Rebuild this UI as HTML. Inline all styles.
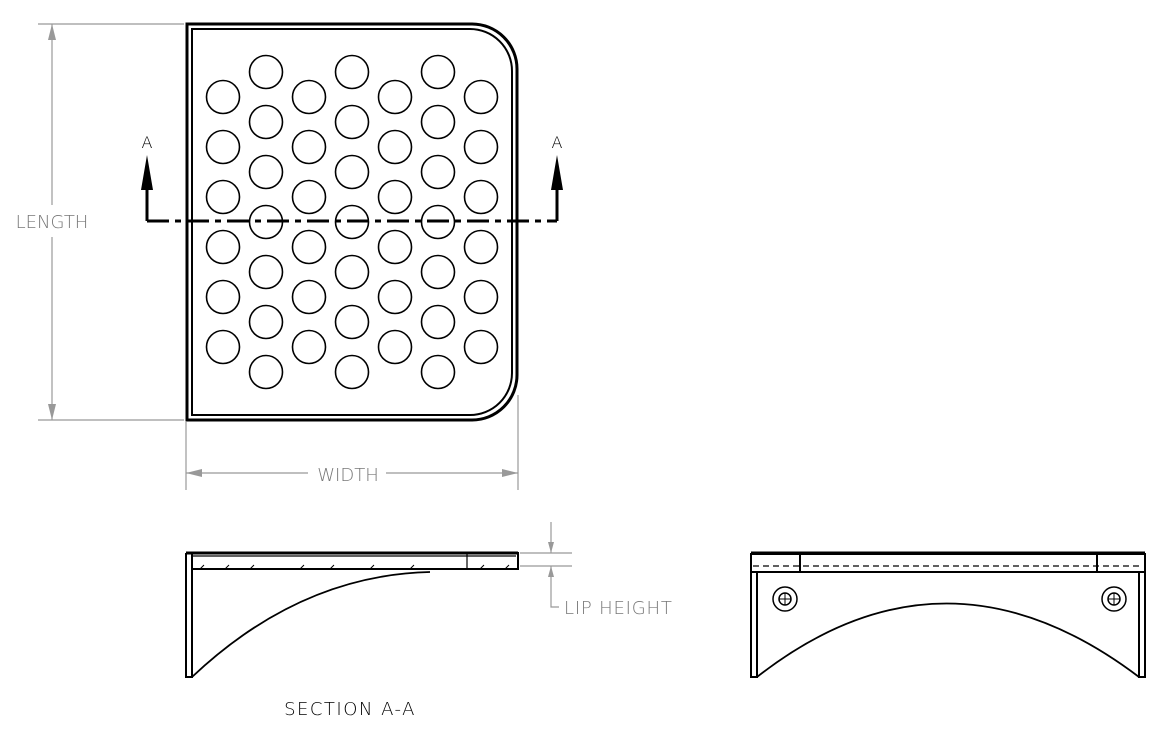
<!DOCTYPE html>
<html><head><style>
html,body{margin:0;padding:0;background:#fff;}
svg{display:block;}
text{font-family:"DejaVu Sans","Liberation Sans",sans-serif;font-weight:200;}
</style></head><body>
<svg width="1175" height="742" viewBox="0 0 1175 742" xmlns="http://www.w3.org/2000/svg">
<path d="M187 24 H472 A45 45 0 0 1 517 69 V375 A45 45 0 0 1 472 420 H187 Z" fill="none" stroke="#000" stroke-width="3"/>
<path d="M192 29 H470 A42 42 0 0 1 512 71 V373 A42 42 0 0 1 470 415 H192 Z" fill="none" stroke="#000" stroke-width="2"/>
<g fill="none" stroke="#000" stroke-width="1.6">
<g id="e">
<circle cx="223" cy="97" r="16.5"/><circle cx="223" cy="147" r="16.5"/><circle cx="223" cy="197" r="16.5"/><circle cx="223" cy="247" r="16.5"/><circle cx="223" cy="297" r="16.5"/><circle cx="223" cy="347" r="16.5"/>
</g>
<use href="#e" x="86"/><use href="#e" x="172"/><use href="#e" x="258"/>
<g id="o">
<circle cx="266" cy="72" r="16.5"/><circle cx="266" cy="122" r="16.5"/><circle cx="266" cy="172" r="16.5"/><circle cx="266" cy="222" r="16.5"/><circle cx="266" cy="272" r="16.5"/><circle cx="266" cy="322" r="16.5"/><circle cx="266" cy="372" r="16.5"/>
</g>
<use href="#o" x="86"/><use href="#o" x="172"/>
</g>
<path d="M147 221 H557" stroke="#000" stroke-width="3" stroke-dasharray="22 6 6 6" fill="none"/>
<path d="M147 221 V185 M557 221 V185" stroke="#000" stroke-width="3"/>
<path d="M147 155 L141 190 H153 Z M557 155 L551 190 H563 Z" fill="#000"/>
<text x="147" y="148" font-size="16" text-anchor="middle" fill="#000">A</text>
<text x="557" y="148" font-size="16" text-anchor="middle" fill="#000">A</text>
<g stroke="#999" stroke-width="1.2" fill="none">
<path d="M38 24 H184 M38 420 H184 M52 24 V205 M52 237 V420"/>
<path d="M186 422 V490 M518 395 V490 M186 473 H308 M386 473 H518"/>
<path d="M520 553 H572 M520 566 H572 M551 522 V553 M551 566 V607 H559"/>
</g>
<path d="M52 24 L48 40 H56 Z M52 420 L48 404 H56 Z M186 473 L202 469 V477 Z M518 473 L502 469 V477 Z M551 553 L548 542 H554 Z M551 566 L548 577 H554 Z" fill="#999"/>
<text x="52" y="228" font-size="18" text-anchor="middle" fill="#777">LENGTH</text>
<text x="348" y="481" font-size="18" text-anchor="middle" fill="#777">WIDTH</text>
<text x="564" y="614" font-size="18" fill="#777" letter-spacing="0.8">LIP HEIGHT</text>
<g fill="none" stroke="#000" stroke-width="2">
<path d="M186 553 H518 V569 H192 M186 553 V677 H192 V553"/>
<path d="M192 556 H516 M467 553 V569" stroke-width="1.2"/>
<path d="M192 677 Q300 575 430 572" stroke-width="1.8"/>
</g>
<path d="M186 553 H518" stroke="#000" stroke-width="3"/>
<path d="M200 569 l4 -4 M225 569 l4 -4 M250 569 l4 -4 M300 569 l4 -4 M330 569 l4 -4 M370 569 l4 -4 M410 569 l4 -4 M480 569 l4 -4 M505 569 l4 -4" stroke="#000" stroke-width="1"/>
<text x="350" y="715" font-size="18" text-anchor="middle" fill="#000" letter-spacing="1.5">SECTION A-A</text>
<g fill="none" stroke="#000" stroke-width="2">
<path d="M751 554 H1145 V677 H1139 V572 H757 V677 H751 Z"/>
<path d="M751 572 H1145"/>
<path d="M800 554 V572 M1097 554 V572"/>
<path d="M757 677 Q945 530 1139 677" stroke-width="1.8"/>
<path d="M753 566 H1143" stroke-dasharray="6 4" stroke-width="1.2"/>
<circle cx="785" cy="599" r="12" stroke-width="1.5"/><circle cx="785" cy="599" r="6" stroke-width="1.5"/>
<circle cx="1114" cy="599" r="12" stroke-width="1.5"/><circle cx="1114" cy="599" r="6" stroke-width="1.5"/>
<path d="M779 599 H791 M785 593 V605 M1108 599 H1120 M1114 593 V605" stroke-width="1"/>
</g>
<path d="M751 553 H1145" stroke="#000" stroke-width="3"/>
</svg>
</body></html>
